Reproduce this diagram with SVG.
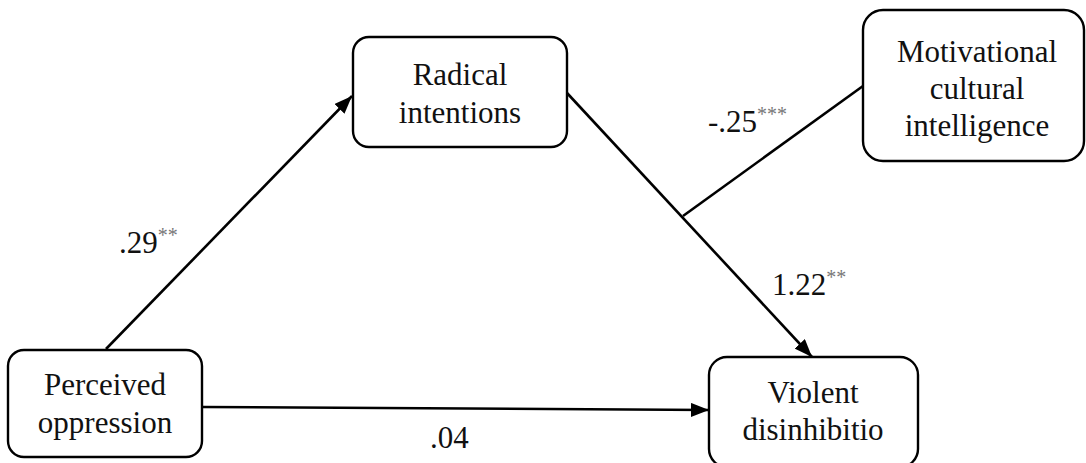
<svg xmlns="http://www.w3.org/2000/svg" width="1086" height="463" viewBox="0 0 1086 463">
<defs>
<style>
.box{fill:#fff;stroke:#000;stroke-width:2.4}
.t{font-family:'Liberation Serif','DejaVu Serif',serif;font-size:31px;fill:#111;text-anchor:middle}
.lab{font-family:'Liberation Serif','DejaVu Serif',serif;font-size:31px;fill:#111}
.sup{font-size:20px;fill:#777}
.c{stroke:#000;stroke-width:2.6;fill:none}
</style>
<marker id="ah" markerUnits="userSpaceOnUse" markerWidth="18" markerHeight="14" refX="18" refY="7" orient="auto">
<path d="M0,0 L18,7 L0,14 z" fill="#000"/>
</marker>
</defs>
<rect width="1086" height="463" fill="#fff"/>
<g id="connectors">
<line class="c" x1="106" y1="349" x2="352" y2="96" marker-end="url(#ah)"/>
<line class="c" x1="567" y1="93" x2="812" y2="357" marker-end="url(#ah)"/>
<line class="c" x1="863" y1="86" x2="683" y2="216"/>
<line class="c" x1="203" y1="407" x2="709" y2="410" marker-end="url(#ah)"/>
</g>
<g id="labels" font-family="Liberation Serif, serif">
<text class="lab" x="119" y="253">.29<tspan class="sup" dy="-11">**</tspan></text>
<text class="lab" x="708" y="132">-.25<tspan class="sup" dy="-11">***</tspan></text>
<text class="lab" x="772" y="295">1.22<tspan class="sup" dy="-11">**</tspan></text>
<text class="lab" x="430" y="448">.04</text>
</g>
<g id="perceived" font-family="Liberation Serif, serif">
<rect class="box" x="8" y="350" width="194" height="107" rx="16"/>
<text class="t" x="105" y="395">Perceived</text>
<text class="t" x="105" y="433">oppression</text>
</g>
<g id="radical" font-family="Liberation Serif, serif">
<rect class="box" x="353" y="37" width="214" height="110" rx="16"/>
<text class="t" x="460" y="85">Radical</text>
<text class="t" x="460" y="123">intentions</text>
</g>
<g id="motivational" font-family="Liberation Serif, serif">
<rect class="box" x="863" y="10" width="221" height="151" rx="20"/>
<text class="t" x="977" y="62">Motivational</text>
<text class="t" x="977" y="99">cultural</text>
<text class="t" x="977" y="136">intelligence</text>
</g>
<g id="violent" font-family="Liberation Serif, serif">
<rect class="box" x="709" y="357" width="209" height="110" rx="18"/>
<text class="t" x="813" y="403">Violent</text>
<text class="t" x="813" y="440">disinhibitio</text>
</g>
</svg>
